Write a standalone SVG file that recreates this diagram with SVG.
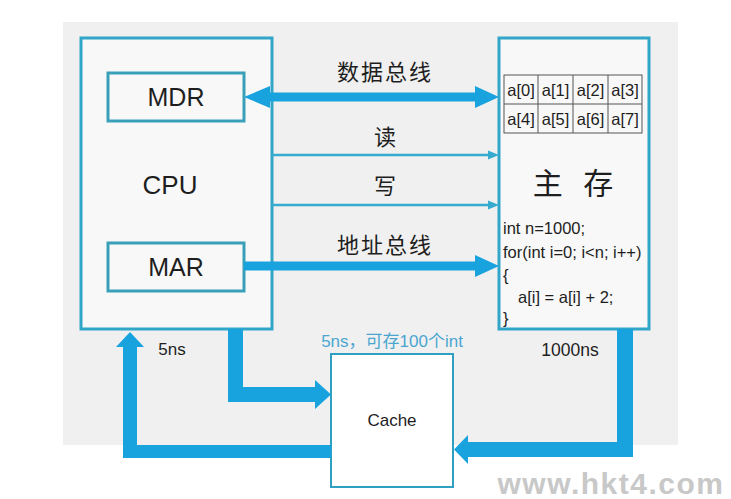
<svg xmlns="http://www.w3.org/2000/svg" width="731" height="499" viewBox="0 0 731 499">
<style>
.box{fill:#f8f8f8;stroke:#31a6c9;stroke-width:3}
.reg{fill:#f8f8f8;stroke:#3aa0ba;stroke-width:3}
.lat{font-family:"Liberation Sans",Arial,sans-serif;fill:#1e1e1e}
.cjk{font-family:"Noto Sans CJK SC","Noto Sans",sans-serif;fill:#1e1e1e}
.thick{fill:#19a3de}
.thin{stroke:#36abd0;stroke-width:2.5;fill:none}
.thinhead{fill:#36abd0}
.cell{fill:none;stroke:#555;stroke-width:1}
</style>
<rect x="0" y="0" width="731" height="499" fill="#ffffff"/>
<rect x="63" y="22" width="615" height="423" fill="#f0f0f0"/>

<g id="cpu">
  <rect class="box" x="81" y="38" width="191" height="291"/>
  <text class="lat" x="170" y="194" font-size="26" text-anchor="middle">CPU</text>
</g>
<g id="mdr">
  <rect class="reg" x="108" y="73" width="136" height="48"/>
  <text class="lat" x="176" y="106" font-size="25" text-anchor="middle">MDR</text>
</g>
<g id="mar">
  <rect class="reg" x="108" y="243" width="136" height="48"/>
  <text class="lat" x="176" y="276" font-size="25" text-anchor="middle">MAR</text>
</g>
<g id="memory">
  <rect class="box" x="499" y="38" width="150" height="291"/>
  <g class="cells">
    <rect class="cell" x="504" y="75" width="138" height="58"/>
    <line class="cell" x1="504" y1="104" x2="642" y2="104"/>
    <line class="cell" x1="538" y1="75" x2="538" y2="133"/>
    <line class="cell" x1="573" y1="75" x2="573" y2="133"/>
    <line class="cell" x1="608" y1="75" x2="608" y2="133"/>
  </g>
  <g class="lat" font-size="16.5" text-anchor="middle">
    <text x="521" y="96">a[0]</text>
    <text x="555.5" y="96">a[1]</text>
    <text x="590.5" y="96">a[2]</text>
    <text x="625" y="96">a[3]</text>
    <text x="521" y="125">a[4]</text>
    <text x="555.5" y="125">a[5]</text>
    <text x="590.5" y="125">a[6]</text>
    <text x="625" y="125">a[7]</text>
  </g>
  <text class="cjk" x="573" y="194" font-size="30" text-anchor="middle" word-spacing="14">主 存</text>
  <g class="lat" font-size="16.5">
    <text x="503" y="234">int n=1000;</text>
    <text x="503" y="258">for(int i=0; i&lt;n; i++)</text>
    <text x="503" y="281">{</text>
    <text x="518" y="303">a[i] = a[i] + 2;</text>
    <text x="503" y="324">}</text>
  </g>
</g>
<g id="cache">
  <rect x="331" y="354" width="122" height="133" fill="#ffffff" stroke="#2fa0c0" stroke-width="2"/>
  <text class="lat" x="392" y="426" font-size="17" text-anchor="middle">Cache</text>
</g>

<g id="connectors">
  <polygon class="thick" points="244,97 270,86 270,92.5 475,92.5 475,86 499,97 475,108 475,101.5 270,101.5 270,108"/>
  <line class="thin" x1="272" y1="155" x2="491" y2="155"/>
  <polygon class="thinhead" points="488,150.5 499,155 488,159.5"/>
  <line class="thin" x1="272" y1="205" x2="491" y2="205"/>
  <polygon class="thinhead" points="488,200.5 499,205 488,209.5"/>
  <polygon class="thick" points="244,261.5 475,261.5 475,255 499,266 475,277 475,270.5 244,270.5"/>
  <polygon class="thick" points="228,329 243,329 243,387 315,387 315,380 331,394.5 315,409 315,402 228,402"/>
  <polygon class="thick" points="331,445 137,445 137,347 144,347 130,332 116,347 123,347 123,458 331,458"/>
  <polygon class="thick" points="617,329 633,329 633,457 468,457 468,464 454,449.5 468,435 468,442 617,442"/>
</g>

<g id="labels">
  <text class="cjk" x="385" y="80" font-size="22" text-anchor="middle" letter-spacing="2">数据总线</text>
  <text class="cjk" x="385" y="145" font-size="22" text-anchor="middle">读</text>
  <text class="cjk" x="385" y="194" font-size="22" text-anchor="middle">写</text>
  <text class="cjk" x="385" y="253" font-size="22" text-anchor="middle" letter-spacing="2">地址总线</text>
  <text class="lat" x="172" y="355" font-size="17" text-anchor="middle">5ns</text>
  <text class="lat" x="570" y="356" font-size="17.5" text-anchor="middle">1000ns</text>
  <text x="392" y="347" font-size="17" text-anchor="middle" font-family="'Liberation Sans','Noto Sans CJK SC',sans-serif" fill="#4aa6d0">5ns，可存100个int</text>
  <text x="611" y="494" font-size="30" font-weight="bold" text-anchor="middle" letter-spacing="1.5" font-family="'Liberation Sans',Arial,sans-serif" fill="#c8c8c8">www.hkt4.com</text>
</g>
</svg>
